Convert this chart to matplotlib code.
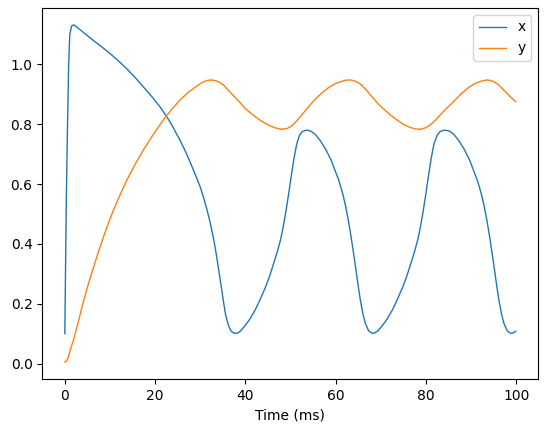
import matplotlib
matplotlib.use("Agg")
import matplotlib.pyplot as plt

# values
t_x = [0, 0.33, 0.6, 0.85, 1.1, 1.5, 1.95, 2.7, 4.5, 6.4, 8.3, 10.1, 12.0, 13.8,
       15.7, 17.5, 19.4, 21.2, 23.4, 24.5, 25.6, 26.7, 27.8, 28.9, 30.0, 30.8,
       31.5, 32.1, 32.6, 33.2, 33.7, 34.4, 35.1, 35.6, 36.2, 36.7, 37.2, 37.8,
       38.4, 39.0, 40.0, 41.1, 42.2, 43.3, 44.5, 45.4, 46.3, 47.1, 47.8, 48.4,
       49.0, 49.6, 50.2, 50.8, 51.4, 52.0, 52.6, 53.2, 53.7, 54.5, 55.5, 56.6,
       57.8, 59.0, 60.0, 60.6, 61.1, 61.7, 62.2, 62.7, 63.3, 63.9, 64.4, 65.0,
       65.5, 66.1, 66.6, 67.3, 68.1, 68.7, 69.4, 70.4, 71.5, 72.6, 73.7, 74.9,
       75.8, 76.7, 77.5, 78.2, 78.8, 79.4, 80.0, 80.6, 81.2, 81.8, 82.5, 83.1,
       83.8, 84.4, 85.2, 86.2, 87.3, 88.5, 89.7, 90.7, 91.3, 91.8, 92.4, 92.9,
       93.4, 94.0, 94.6, 95.1, 95.7, 96.2, 96.8, 97.3, 98.0, 98.8, 99.4, 99.9]
x_vals = [0.10, 0.55, 0.80, 1.00, 1.10, 1.128, 1.132, 1.124, 1.102, 1.079, 1.057,
          1.035, 1.01, 0.984, 0.954, 0.923, 0.89, 0.856, 0.806, 0.775, 0.744,
          0.71, 0.672, 0.632, 0.59, 0.552, 0.514, 0.478, 0.443, 0.398, 0.352,
          0.283, 0.212, 0.165, 0.13, 0.112, 0.104, 0.101, 0.103, 0.11, 0.128,
          0.151, 0.18, 0.215, 0.257, 0.294, 0.336, 0.375, 0.414, 0.458, 0.51,
          0.568, 0.63, 0.688, 0.735, 0.763, 0.775, 0.779, 0.78, 0.777, 0.766,
          0.745, 0.716, 0.68, 0.64, 0.617, 0.593, 0.56, 0.527, 0.488, 0.436,
          0.376, 0.324, 0.26, 0.21, 0.163, 0.134, 0.11, 0.101, 0.103, 0.11,
          0.128, 0.151, 0.18, 0.215, 0.257, 0.294, 0.336, 0.375, 0.414, 0.458,
          0.51, 0.568, 0.63, 0.688, 0.735, 0.763, 0.775, 0.779, 0.78, 0.777,
          0.766, 0.745, 0.716, 0.68, 0.64, 0.617, 0.593, 0.56, 0.527, 0.488,
          0.436, 0.376, 0.324, 0.26, 0.21, 0.163, 0.134, 0.11, 0.101, 0.103,
          0.108]

t_y = [0, 0.4, 0.8, 1.2, 2.0, 2.7, 3.4, 4.2, 5.3, 6.4, 7.5, 8.6, 9.7, 10.8,
       12.3, 13.8, 15.6, 17.5, 19.7, 21.9, 23.8, 25.6, 27.4, 29.3, 30.5, 31.5,
       32.5, 33.5, 34.3, 35.2, 36.3, 37.4, 38.7, 40.0, 41.5, 43.0, 44.5, 45.9,
       47.0, 48.2, 49.3, 50.4, 51.5, 52.6, 54.0, 55.5, 57.0, 58.5, 60.0, 61.1,
       62.2, 63.3, 64.3, 65.5, 66.8, 68.0, 69.3, 70.7, 72.2, 73.8, 75.3, 76.6,
       77.7, 78.8, 79.9, 81.0, 82.1, 83.1, 84.5, 85.9, 87.7, 89.5, 91.0, 92.5,
       93.6, 94.8, 96.0, 97.2, 98.5, 99.9]
y_vals = [0.005, 0.009, 0.022, 0.045, 0.083, 0.123, 0.165, 0.212, 0.27, 0.324,
          0.376, 0.425, 0.471, 0.514, 0.566, 0.615, 0.667, 0.716, 0.768, 0.816,
          0.852, 0.882, 0.907, 0.928, 0.94, 0.946, 0.948, 0.945, 0.94, 0.93,
          0.912, 0.895, 0.874, 0.852, 0.833, 0.816, 0.802, 0.792, 0.786, 0.783,
          0.786, 0.796, 0.813, 0.833, 0.858, 0.884, 0.905, 0.923, 0.936, 0.942,
          0.947, 0.948, 0.944, 0.934, 0.914, 0.893, 0.87, 0.85, 0.83, 0.812,
          0.797, 0.789, 0.784, 0.783, 0.788, 0.798, 0.813, 0.83, 0.852, 0.872,
          0.9, 0.923, 0.937, 0.945, 0.948, 0.944, 0.933, 0.915, 0.895, 0.875]

fig = plt.figure(figsize=(5.47, 4.32), dpi=100)
fig.subplots_adjust(left=0.0773, right=0.984, top=0.9815, bottom=0.1227)
ax = fig.add_subplot(111)

ax.plot(t_x, x_vals, label='x', linewidth=1)
ax.plot(t_y, y_vals, label='y', linewidth=1)
ax.set_xlabel('Time (ms)')
ax.legend(loc='upper right')

plt.savefig('out.png', dpi=100)
